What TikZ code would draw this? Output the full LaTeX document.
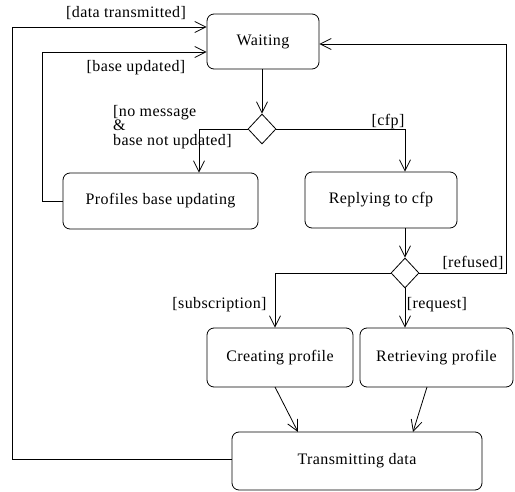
\documentclass[tikz,border=0pt]{standalone}
\usepackage{fontspec}
\setmainfont{Liberation Serif}[LetterSpace=2.5]
\usetikzlibrary{arrows.meta,shapes.geometric}
\begin{document}
\begin{tikzpicture}[x=1pt,y=-1pt,
  every node/.style={font=\fontsize{16}{14.5}\selectfont},
  activity/.style={draw, line width=0.8pt, rounded corners=7pt, inner sep=0pt},
  choice/.style={draw, line width=0.8pt, diamond, minimum width=28pt, minimum height=30pt, inner sep=0pt},
  flow/.style={draw, line width=0.8pt, -{Straight Barb[length=11pt,width=11pt,line width=0.8pt]}},
  guard/.style={inner sep=0pt}]
  \useasboundingbox (0,0) rectangle (515,492);

  % activity states
  \node[activity, minimum width=112pt, minimum height=55pt] (wait) at (263,41.5) {Waiting};
  \node[activity, minimum width=195pt, minimum height=56pt] (prof) at (160.5,201) {Profiles base updating};
  \node[activity, minimum width=152pt, minimum height=56pt] (reply) at (381,200) {Replying to cfp};
  \node[activity, minimum width=146pt, minimum height=59pt] (create) at (280,357.5) {Creating profile};
  \node[activity, minimum width=153pt, minimum height=59pt] (retr) at (436.5,357.5) {Retrieving profile};
  \node[activity, minimum width=250pt, minimum height=58pt] (trans) at (357,461) {Transmitting data};

  % decisions
  \node[choice] (d1) at (262,129) {};
  \node[choice] (d2) at (405,273) {};

  % bend points
  \coordinate (b1) at (199,129);
  \coordinate (b2) at (405,129);
  \coordinate (b3) at (275,273);
  \coordinate (r1) at (506,273);
  \coordinate (r2) at (506,44);
  \coordinate (p1) at (42,201);
  \coordinate (p2) at (42,52);
  \coordinate (t1) at (12,459);
  \coordinate (t2) at (12,27);
  \coordinate (cs) at (275,387);
  \coordinate (ct) at (298,432);
  \coordinate (rs) at (427,387);
  \coordinate (rt) at (413,432);

  % flows
  \draw[flow] (wait.south -| d1) -- (d1.north);
  \draw[flow] (d1.west) -- (b1) -- (b1 |- prof.north);
  \draw[flow] (d1.east) -- (b2) -- (b2 |- reply.north);
  \draw[flow] (reply.south -| d2) -- (d2.north);
  \draw[flow] (d2.east) -- (r1) -- (r2) -- (wait.east |- r2);
  \draw[flow] (d2.west) -- (b3) -- (b3 |- create.north);
  \draw[flow] (d2.south) -- (d2 |- retr.north);
  \draw[flow] (prof.west |- p1) -- (p1) -- (p2) -- (wait.west |- p2);
  \draw[flow] (trans.west |- t1) -- (t1) -- (t2) -- (wait.west |- t2);
  \draw[flow] (cs) -- (ct);
  \draw[flow] (rs) -- (rt);

  % guards
  \node[guard] (g1) at (126,13) {[data transmitted]};
  \node[guard] (g2) at (136,68) {[base updated]};
  \node[guard, align=left, anchor=north west] (g3) at (113,105) {[no message\\\&\\base not updated]};
  \node[guard] (g4) at (388,122) {[cfp]};
  \node[guard] (g5) at (473,263) {[refused]};
  \node[guard] (g6) at (219.5,305) {[subscription]};
  \node[guard] (g7) at (437,305) {[request]};
\end{tikzpicture}
\end{document}
